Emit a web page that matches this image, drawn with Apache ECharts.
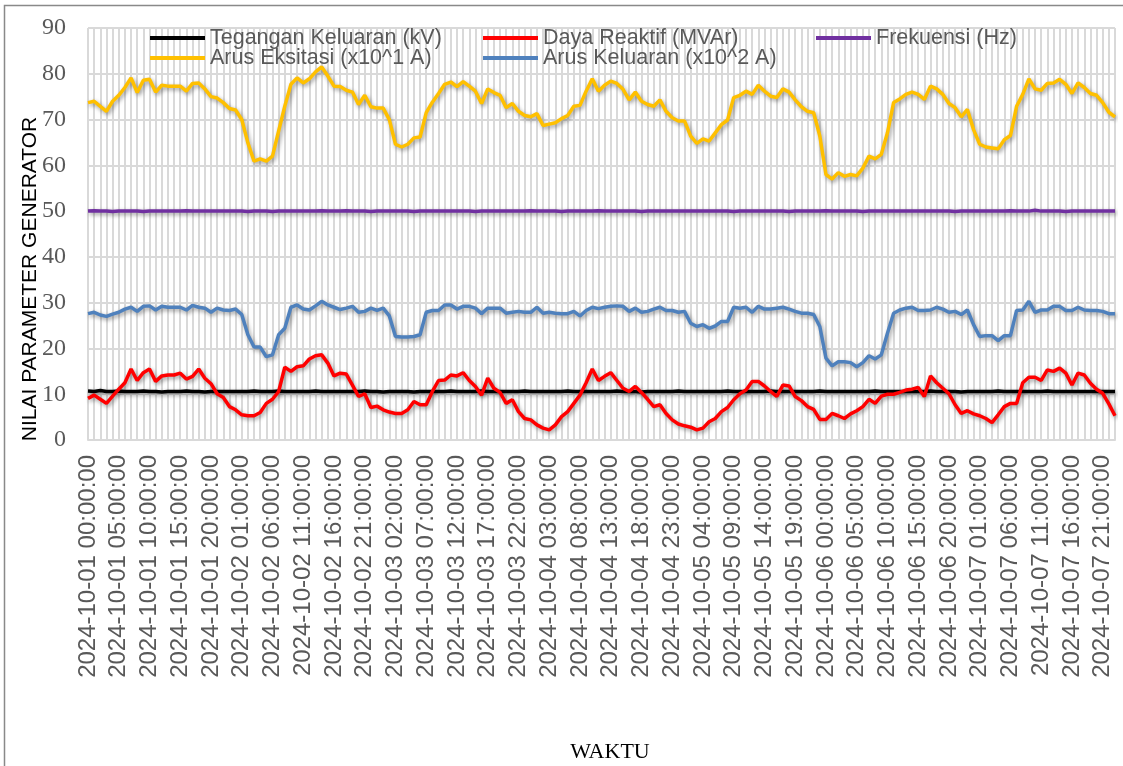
<!DOCTYPE html>
<html>
<head>
<meta charset="utf-8">
<script src="https://cdn.jsdelivr.net/npm/echarts@6/dist/echarts.min.js"></script>
<style>
html,body{margin:0;padding:0;background:#fff;}
#chart{width:1123px;height:766px;}
</style>
</head>
<body>
<div id="chart"></div>
<script>
// Categories: hourly timestamps 2024-10-01 00:00 .. 2024-10-07 23:00
var days = ['01','02','03','04','05','06','07'];
var hours = ['00','01','02','03','04','05','06','07','08','09','10','11','12','13','14','15','16','17','18','19','20','21','22','23'];
var categories = [];
days.forEach(function(d){ hours.forEach(function(h){ categories.push('2024-10-' + d + ' ' + h + ':00:00'); }); });

var seriesNames = ['Tegangan Keluaran (kV)','Daya Reaktif (MVAr)','Frekuensi (Hz)','Arus Eksitasi (x10^1 A)','Arus Keluaran (x10^2 A)'];
var yTicks = [0,10,20,30,40,50,60,70,80,90];

var teganganKeluaran = [
10.7,10.6,10.8,10.6,10.6,10.7,10.6,10.6,10.6,10.7,10.6,10.6,10.5,10.6,10.6,10.6,10.7,10.6,10.6,10.5,10.6,
10.6,10.6,10.6,10.6,10.6,10.6,10.7,10.6,10.6,10.6,10.7,10.6,10.6,10.6,10.6,10.6,10.7,10.6,10.6,10.6,10.6,
10.6,10.6,10.6,10.7,10.6,10.6,10.5,10.6,10.6,10.6,10.6,10.5,10.6,10.6,10.6,10.6,10.6,10.7,10.6,10.6,10.6,
10.6,10.7,10.6,10.6,10.6,10.6,10.6,10.6,10.7,10.6,10.6,10.6,10.6,10.6,10.6,10.7,10.6,10.6,10.6,10.6,10.6,
10.6,10.6,10.7,10.6,10.6,10.6,10.5,10.6,10.6,10.6,10.6,10.6,10.7,10.6,10.6,10.6,10.6,10.6,10.6,10.6,10.7,
10.6,10.6,10.6,10.6,10.6,10.6,10.7,10.6,10.6,10.6,10.6,10.6,10.6,10.6,10.7,10.6,10.6,10.6,10.6,10.6,10.6,
10.6,10.6,10.7,10.6,10.6,10.6,10.6,10.6,10.6,10.6,10.6,10.7,10.6,10.6,10.6,10.6,10.5,10.6,10.6,10.6,10.6,
10.6,10.7,10.6,10.6,10.6,10.6,10.6,10.6,10.6,10.7,10.6,10.6,10.6,10.6,10.6,10.6,10.6,10.6,10.6,10.6,10.6
];

var dayaReaktif = [
9.1,9.8,8.9,8.0,9.6,11.1,12.5,15.5,13.0,14.7,
15.5,12.8,14.0,14.2,14.2,14.6,13.3,13.9,15.5,13.5,
12.3,10.1,9.3,7.3,6.6,5.5,5.3,5.3,6.0,8.0,
8.9,10.6,15.9,15.0,16.0,16.2,17.7,18.4,18.6,16.8,
14.0,14.6,14.4,12.0,9.5,10.1,7.1,7.4,6.6,6.1,
5.8,5.8,6.6,8.4,7.7,7.7,10.6,13.0,13.1,14.2,
14.0,14.7,13.0,11.7,9.8,13.5,11.3,10.4,8.0,8.8,
6.2,4.7,4.4,3.3,2.6,2.2,3.3,5.1,6.2,8.0,
9.8,12.5,15.5,13.0,13.9,14.7,13.0,11.3,10.6,11.7,
10.4,8.9,7.3,7.7,5.8,4.4,3.5,3.1,2.8,2.2,
2.6,4.0,4.7,6.2,7.1,8.8,10.1,10.9,12.8,12.8,
11.8,10.6,9.5,12.0,11.8,9.5,8.6,7.3,6.7,4.5,
4.5,5.8,5.3,4.7,5.7,6.4,7.3,8.9,8.0,9.6,
10.0,10.0,10.4,10.9,11.1,11.5,9.5,14.0,12.5,11.3,
10.1,7.7,5.8,6.4,5.7,5.3,4.7,3.8,5.5,7.3,
8.0,8.0,12.5,13.7,13.7,13.0,15.3,15.0,15.7,14.6,
12.0,14.6,14.2,12.4,11.1,10.2,7.9,5.3
];

var frekuensi = [
50.0,50.1,50.0,50.0,49.9,50.0,50.0,50.0,50.0,49.9,50.0,50.0,50.0,50.0,50.0,50.0,50.1,50.0,50.0,50.0,50.0,
50.0,50.0,50.0,50.0,50.0,49.9,50.0,50.0,50.0,49.9,50.0,50.0,50.0,50.0,50.0,50.0,50.0,50.1,50.0,50.0,50.0,
50.1,50.0,50.0,50.0,49.9,50.0,50.0,50.0,50.0,50.0,50.0,49.9,50.0,50.0,50.0,50.0,50.0,50.0,50.0,50.0,50.0,
49.9,50.0,50.0,50.0,50.0,50.0,50.0,50.0,50.0,50.1,50.0,50.0,50.0,50.0,49.9,50.0,50.0,50.0,50.0,50.0,50.1,
50.0,50.0,50.0,50.0,50.0,50.0,49.9,50.0,50.0,50.0,50.0,50.0,50.0,50.0,50.0,50.0,50.0,50.0,50.0,50.0,50.0,
49.9,50.0,50.0,50.0,50.0,50.0,50.0,50.0,50.0,49.9,50.0,50.0,50.0,50.0,50.0,50.1,50.0,50.0,50.0,50.0,50.0,
49.9,50.0,50.0,50.0,50.0,50.0,50.0,50.0,50.0,50.0,50.0,50.0,50.0,50.0,50.0,49.9,50.0,50.0,50.0,50.0,50.0,
50.0,50.0,50.0,50.1,50.0,50.0,50.0,50.2,50.0,50.0,50.0,50.0,49.9,50.0,50.0,50.0,50.0,50.0,50.0,50.0,50.0
];

var arusEksitasi = [
73.7,74.0,72.9,71.8,74.0,75.3,77.0,79.1,75.9,78.6,
78.8,76.0,77.5,77.3,77.3,77.3,76.2,77.9,78.0,76.7,
75.0,74.7,73.7,72.4,72.1,70.0,64.9,60.9,61.4,60.9,
62.0,67.5,72.9,77.7,79.1,78.0,78.9,80.4,81.5,79.5,
77.3,77.2,76.4,76.0,73.3,75.3,72.8,72.5,72.5,70.0,
64.6,64.0,64.6,66.0,66.2,71.5,73.8,75.7,77.7,78.2,
77.2,78.3,77.3,76.2,73.5,76.7,75.9,75.3,72.6,73.5,
71.8,70.9,70.6,71.3,68.7,69.0,69.3,70.2,70.9,72.9,
73.1,76.2,78.9,76.2,77.5,78.4,77.9,76.6,74.3,76.0,
74.0,73.3,72.9,74.3,71.8,70.4,69.7,69.7,66.4,64.8,
65.8,65.3,67.1,68.9,69.9,74.8,75.3,76.2,75.5,77.5,
76.2,75.1,74.8,76.7,76.0,74.3,72.8,71.8,71.5,66.4,
58.0,57.0,58.4,57.6,58.0,57.7,59.4,62.0,61.4,62.4,
67.1,73.7,74.5,75.5,76.0,75.5,74.4,77.3,76.7,75.5,
73.5,72.6,70.6,72.2,67.8,64.6,64.0,63.8,63.6,65.6,
66.5,72.9,75.5,78.9,76.7,76.4,77.9,78.0,78.8,77.7,
75.7,78.0,77.0,75.7,75.3,73.7,71.6,70.6
];

var arusKeluaran = [
27.6,27.9,27.3,27.0,27.5,27.9,28.6,29.0,28.1,29.2,
29.3,28.4,29.2,29.0,29.0,29.0,28.4,29.4,29.0,28.8,
27.9,28.8,28.4,28.3,28.6,27.4,23.0,20.3,20.3,18.2,
18.6,23.0,24.4,29.0,29.5,28.6,28.4,29.3,30.3,29.5,
29.0,28.5,28.8,29.2,27.9,28.1,28.8,28.3,28.8,27.1,
22.6,22.5,22.5,22.6,23.0,27.9,28.3,28.3,29.5,29.5,
28.6,29.2,29.2,28.8,27.6,28.8,28.8,28.8,27.7,27.9,
28.1,27.9,27.9,29.0,27.7,27.9,27.7,27.6,27.6,28.1,
27.1,28.3,29.0,28.7,29.0,29.2,29.3,29.2,28.1,28.8,
27.9,28.1,28.6,29.0,28.3,28.3,27.9,28.1,25.5,24.8,
25.2,24.4,24.9,25.9,25.9,29.0,28.8,29.0,27.9,29.2,
28.6,28.6,28.8,29.0,28.6,28.1,27.7,27.7,27.4,24.8,
17.9,16.2,17.1,17.1,16.9,16.0,16.9,18.4,17.7,18.6,
23.3,27.7,28.4,28.8,29.0,28.3,28.3,28.4,29.0,28.6,
27.9,28.1,27.4,28.4,25.2,22.6,22.8,22.8,21.7,22.8,
22.8,28.3,28.4,30.3,27.9,28.4,28.4,29.2,29.2,28.3,
28.3,29.0,28.4,28.3,28.3,28.1,27.6,27.6
];

var colors = ['#000000','#FF0000','#7030A0','#FFC000','#4F81BD'];
var seriesData = [teganganKeluaran, dayaReaktif, frekuensi, arusEksitasi, arusKeluaran];

var SANS = '"Liberation Sans", Arial, sans-serif';
var SERIF = '"Liberation Serif", "Times New Roman", serif';

var chart = echarts.init(document.getElementById('chart'), null, {renderer:'canvas'});

var legendPos = [[150,27],[483,27],[816,27],[150,47],[483,47]];
var legends = seriesNames.map(function(n,i){
  return {
    data:[n], left:legendPos[i][0], top:legendPos[i][1], padding:0,
    icon:'rect', itemWidth:55, itemHeight:4, itemGap:0, selectedMode:false,
    textStyle:{fontFamily:SANS, fontSize:21.5, color:'#595959'}
  };
});

var series = seriesNames.map(function(n,i){
  return {
    name:n, type:'line', data:seriesData[i], symbol:'none', showSymbol:false,
    color:colors[i],
    lineStyle:{width:3.5, color:colors[i], shadowColor:'rgba(0,0,0,0.4)', shadowBlur:4, shadowOffsetX:1.5, shadowOffsetY:2},
    z:2+i
  };
});

chart.setOption({
  animation:false,
  backgroundColor:'#ffffff',
  grid:{left:88, right:8, top:28, bottom:326, containLabel:false},
  legend:legends,
  xAxis:{
    type:'category', data:categories, boundaryGap:false,
    axisLine:{show:true, lineStyle:{color:'#D9D9D9', width:2}},
    axisTick:{show:false},
    axisLabel:{interval:4, rotate:90, margin:15, fontFamily:SANS, fontSize:24, color:'#595959'},
    splitLine:{show:true, interval:0, lineStyle:{color:'#D9D9D9', width:2}}
  },
  yAxis:{
    type:'value', min:0, max:90, interval:10,
    axisLine:{show:false}, axisTick:{show:false},
    axisLabel:{margin:22, fontFamily:SERIF, fontSize:24, color:'#595959',
      formatter:function(v){ return yTicks.indexOf(v) >= 0 ? String(v) : ''; }},
    splitLine:{show:true, lineStyle:{color:'#D9D9D9', width:2}}
  },
  graphic:[
    {type:'rect', shape:{x:4.5, y:5.5, width:1200, height:900}, style:{fill:'none', stroke:'#898989', lineWidth:1.5}, silent:true, z:-1},
    {type:'text', x:30, y:279, rotation:Math.PI/2,
      style:{text:'NILAI PARAMETER GENERATOR', font:'21px ' + SANS, fill:'#000000', textAlign:'center', textVerticalAlign:'middle'}},
    {type:'text', x:610, y:752,
      style:{text:'WAKTU', font:'22px ' + SERIF, fill:'#000000', textAlign:'center', textVerticalAlign:'middle'}}
  ],
  series:series
});
</script>
</body>
</html>
